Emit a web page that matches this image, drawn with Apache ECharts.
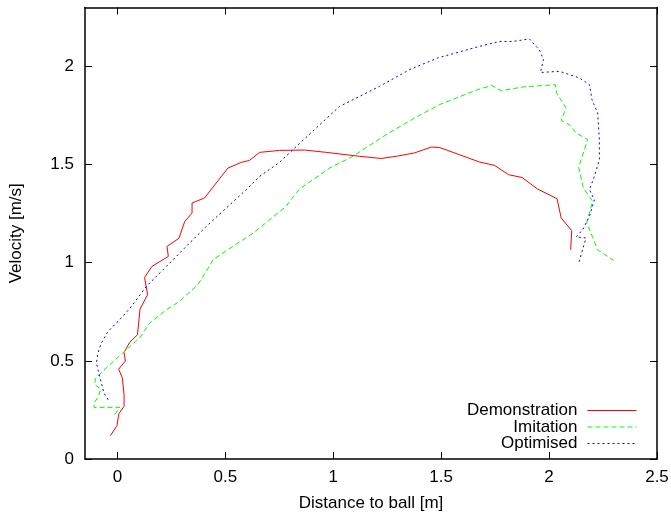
<!DOCTYPE html>
<html>
<head>
<meta charset="utf-8">
<script src="https://cdn.jsdelivr.net/npm/echarts@6/dist/echarts.min.js"></script>
<style>
  html, body { margin: 0; padding: 0; background: #fff; }
  #chart { width: 671px; height: 514px; }
</style>
</head>
<body>
<div id="chart"></div>
<script>
var tickX = [0, 0.5, 1, 1.5, 2, 2.5];
var tickY = [0, 0.5, 1, 1.5, 2];

var demoX = [-0.032, -0.002, 0.007, 0.031, 0.031, 0.023, 0.006, 0.037, 0.031, 0.057, 0.093, 0.105, 0.140, 0.126, 0.160, 0.236, 0.230, 0.285, 0.312, 0.346, 0.346, 0.404, 0.512, 0.574, 0.612, 0.659, 0.751, 0.867, 0.968, 1.068, 1.072, 1.122, 1.222, 1.292, 1.376, 1.454, 1.492, 1.560, 1.677, 1.747, 1.813, 1.875, 1.947, 2.037, 2.056, 2.105, 2.100];
var demoY = [0.119, 0.170, 0.231, 0.268, 0.328, 0.413, 0.458, 0.499, 0.543, 0.594, 0.633, 0.764, 0.837, 0.925, 0.981, 1.032, 1.083, 1.124, 1.210, 1.253, 1.304, 1.330, 1.482, 1.511, 1.521, 1.562, 1.572, 1.574, 1.562, 1.549, 1.540, 1.542, 1.531, 1.542, 1.559, 1.589, 1.587, 1.560, 1.513, 1.496, 1.448, 1.434, 1.375, 1.326, 1.228, 1.163, 1.066];

var imitX = [-0.012, 0.011, -0.108, -0.108, -0.087, -0.077, -0.105, -0.102, -0.074, 0.042, 0.103, 0.150, 0.227, 0.288, 0.373, 0.435, 0.443, 0.535, 0.628, 0.782, 0.798, 0.844, 0.983, 1.091, 1.245, 1.369, 1.492, 1.677, 1.736, 1.778, 1.878, 2.029, 2.035, 2.079, 2.056, 2.094, 2.125, 2.179, 2.137, 2.159, 2.202, 2.174, 2.225, 2.299];
var imitY = [0.226, 0.263, 0.263, 0.285, 0.319, 0.357, 0.379, 0.408, 0.441, 0.557, 0.616, 0.693, 0.760, 0.803, 0.888, 0.998, 1.015, 1.083, 1.150, 1.287, 1.312, 1.375, 1.482, 1.542, 1.652, 1.732, 1.805, 1.885, 1.902, 1.876, 1.895, 1.907, 1.864, 1.788, 1.725, 1.703, 1.661, 1.627, 1.487, 1.380, 1.312, 1.205, 1.066, 1.012];

var optX = [-0.043, -0.062, -0.074, -0.087, -0.097, -0.090, -0.074, -0.046, -0.028, 0.011, 0.065, 0.134, 0.227, 0.319, 0.412, 0.505, 0.597, 0.659, 0.751, 0.829, 1.029, 1.214, 1.353, 1.484, 1.677, 1.770, 1.832, 1.909, 1.932, 1.955, 1.974, 1.960, 2.048, 2.141, 2.187, 2.199, 2.225, 2.233, 2.233, 2.210, 2.187, 2.210, 2.187, 2.156, 2.125, 2.171, 2.135];
var optY = [0.302, 0.336, 0.387, 0.441, 0.489, 0.540, 0.591, 0.645, 0.667, 0.710, 0.777, 0.879, 0.981, 1.083, 1.185, 1.279, 1.372, 1.440, 1.511, 1.592, 1.796, 1.898, 1.983, 2.043, 2.102, 2.127, 2.127, 2.140, 2.111, 2.085, 2.034, 1.969, 1.975, 1.941, 1.907, 1.830, 1.763, 1.627, 1.525, 1.440, 1.372, 1.321, 1.236, 1.168, 1.131, 1.126, 0.990];

function pairs(xs, ys) {
  return xs.map(function (x, i) { return [x, ys[i]]; });
}

var font = 'Liberation Sans';
var fs = 17;
var axisLine = { show: true, onZero: false, lineStyle: { color: '#000', width: 1.5 } };

function xAx(pos, labels) {
  return {
    type: 'value', position: pos, min: -0.15, max: 2.5,
    name: labels ? 'Distance to ball [m]' : '', nameLocation: 'middle', nameGap: 36,
    nameTextStyle: { fontFamily: font, fontSize: fs, color: '#000' },
    axisLine: axisLine,
    axisTick: { show: true, inside: true, length: 7, customValues: tickX, lineStyle: { color: '#000', width: 1 } },
    axisLabel: { show: labels, margin: 10, customValues: tickX, fontFamily: font, fontSize: fs, color: '#000' },
    splitLine: { show: false }
  };
}
function yAx(pos, labels) {
  return {
    type: 'value', position: pos, min: 0, max: 2.3,
    name: labels ? 'Velocity [m/s]' : '', nameLocation: 'middle', nameGap: 60, nameRotate: 90,
    nameTextStyle: { fontFamily: font, fontSize: fs, color: '#000' },
    axisLine: axisLine,
    axisTick: { show: true, inside: true, length: 7, customValues: tickY, lineStyle: { color: '#000', width: 1 } },
    axisLabel: { show: labels, margin: 11, customValues: tickY, fontFamily: font, fontSize: fs, color: '#000' },
    splitLine: { show: false }
  };
}

var chart = echarts.init(document.getElementById('chart'));
var option = {
  animation: false,
  backgroundColor: '#fff',
  grid: { left: 85, right: 14, top: 7.5, bottom: 55, containLabel: false, outerBoundsMode: 'none' },
  legend: {
    orient: 'vertical', align: 'right', right: 34, top: 402, padding: 0,
    itemWidth: 49, itemHeight: 14, itemGap: -0.5,
    itemStyle: { opacity: 0 },
    lineStyle: { width: 1 },
    textStyle: { fontFamily: font, fontSize: fs, color: '#000', padding: [0, 5, 0, 0] },
    data: ['Demonstration', 'Imitation', 'Optimised']
  },
  xAxis: [xAx('bottom', true), xAx('top', false)],
  yAxis: [yAx('left', true), yAx('right', false)],
  series: [
    { name: 'Demonstration', type: 'line', showSymbol: false, symbol: 'none', data: pairs(demoX, demoY),
      lineStyle: { color: '#ff0000', width: 1 }, itemStyle: { color: '#ff0000' } },
    { name: 'Imitation', type: 'line', showSymbol: false, symbol: 'none', data: pairs(imitX, imitY),
      lineStyle: { color: '#00ff00', width: 1, type: [5, 3] }, itemStyle: { color: '#00ff00' } },
    { name: 'Optimised', type: 'line', showSymbol: false, symbol: 'none', data: pairs(optX, optY),
      lineStyle: { color: '#0000ff', width: 1, type: [2, 3] }, itemStyle: { color: '#0000ff' } }
  ]
};
chart.setOption(option);
</script>
</body>
</html>
